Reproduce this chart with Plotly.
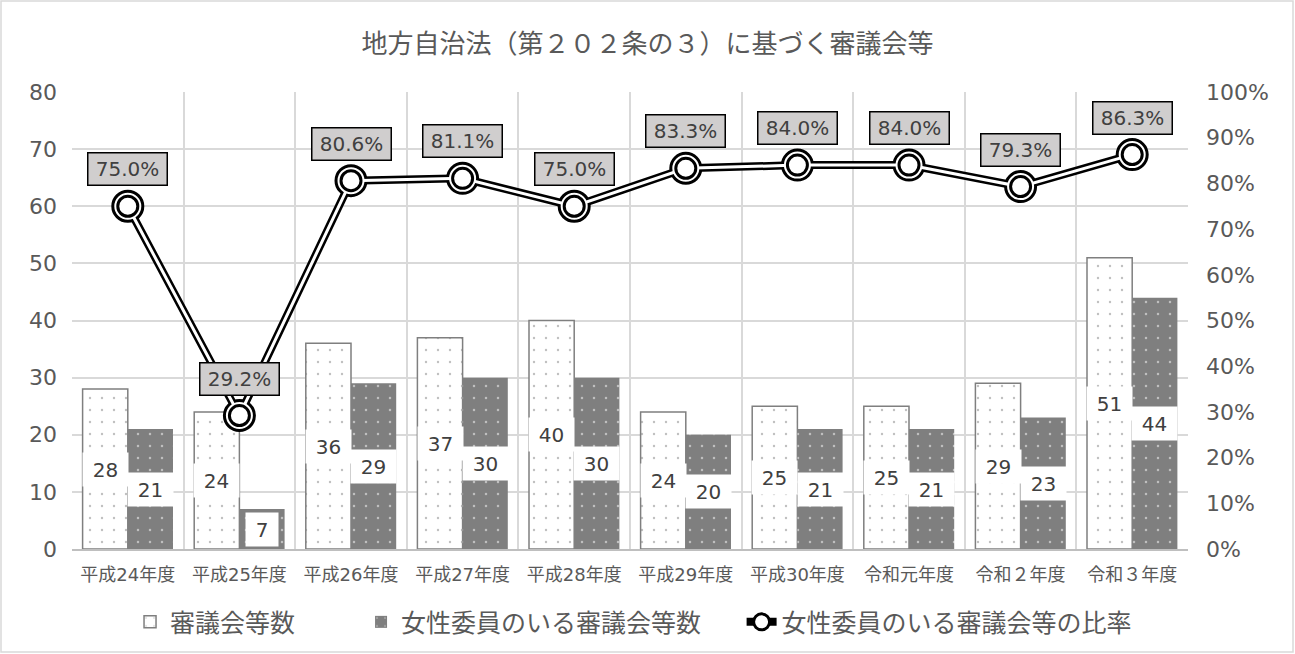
import plotly.graph_objects as go

categories = ["平成24年度", "平成25年度", "平成26年度", "平成27年度", "平成28年度",
              "平成29年度", "平成30年度", "令和元年度", "令和２年度", "令和３年度"]
councils = [28, 24, 36, 37, 40, 24, 25, 25, 29, 51]
councils_with_women = [21, 7, 29, 30, 30, 20, 21, 21, 23, 44]
ratio = [0.750, 0.292, 0.806, 0.811, 0.750, 0.833, 0.840, 0.840, 0.793, 0.863]

name1 = "審議会等数"
name2 = "女性委員のいる審議会等数"
name3 = "女性委員のいる審議会等の比率"
title = "地方自治法（第２０２条の３）に基づく審議会等"

FONT = "DejaVu Sans, Noto Sans CJK JP, sans-serif"
TXT = "#595959"
GRID = "#d9d9d9"
BARGAP = 0.19

fig = go.Figure()
fig.add_trace(go.Bar(
    x=categories, y=councils, name=name1, legend="legend",
    marker=dict(color="white", line=dict(color="#7f7f7f", width=1.5),
                pattern=dict(shape=".", fgcolor="#7f7f7f", bgcolor="white",
                             size=12, solidity=0.03)),
))
fig.add_trace(go.Bar(
    x=categories, y=councils_with_women, name=name2, legend="legend2",
    marker=dict(color="#7f7f7f", line=dict(color="#7f7f7f", width=0),
                pattern=dict(shape=".", fgcolor="white", bgcolor="#7f7f7f",
                             size=12, solidity=0.035)),
))
# double line: thick black then thin white on top
fig.add_trace(go.Scatter(
    x=categories, y=ratio, yaxis="y2", name=name3, legend="legend3",
    mode="lines+markers",
    line=dict(color="black", width=8),
    marker=dict(symbol="circle", size=30, color="white", line=dict(color="black", width=3)),
))
fig.add_trace(go.Scatter(
    x=categories, y=ratio, yaxis="y2", showlegend=False,
    mode="lines+markers",
    line=dict(color="white", width=3),
    marker=dict(symbol="circle", size=20, color="white", line=dict(color="black", width=3)),
    hoverinfo="skip",
))

annotations = []
off = (1 - BARGAP) / 4
for i, (a, b) in enumerate(zip(councils, councils_with_women)):
    for val, dx in ((a, -off), (b, off)):
        s = str(val)
        annotations.append(dict(
            x=i + dx, y=val / 2, xref="x", yref="y", text=s, showarrow=False,
            font=dict(family=FONT, size=20, color="#404040"),
            bgcolor="white", borderpad=3, width=39 if len(s) > 1 else 26, height=27,
        ))
for i, r in enumerate(ratio):
    annotations.append(dict(
        x=i, y=r, xref="x", yref="y2", text=f"{r*100:.1f}%", showarrow=False,
        yshift=37, font=dict(family=FONT, size=20, color="#404040"),
        bgcolor="#d0cece", bordercolor="black", borderwidth=1.5, borderpad=2,
        width=74, height=27,
    ))

fig.update_layout(
    width=1295, height=654,
    margin=dict(l=72, r=107, t=92, b=105, autoexpand=False),
    paper_bgcolor="white", plot_bgcolor="white",
    font=dict(family=FONT, color=TXT),
    title=dict(text=title, x=0.5, xref="container", xanchor="center",
               y=1 - 44 / 654, yref="container", yanchor="middle",
               font=dict(family=FONT, size=26, color=TXT)),
    barmode="group", bargap=BARGAP, bargroupgap=0,
    xaxis=dict(type="category", range=[-0.5, len(categories) - 0.5],
               tickson="boundaries", showgrid=True, gridcolor=GRID,
               gridwidth=1.5, showline=True, linecolor="#bfbfbf", linewidth=1.5,
               ticks="", automargin=False, ticklabelstandoff=9,
               tickfont=dict(family=FONT, size=18, color=TXT)),
    yaxis=dict(range=[0, 80], dtick=10, showgrid=True, gridcolor=GRID, gridwidth=1.5,
               zeroline=False, showline=False, ticks="", ticklabelstandoff=14,
               automargin=False, tickfont=dict(family=FONT, size=22, color=TXT)),
    yaxis2=dict(range=[0, 1], dtick=0.1, tickformat=".0%", overlaying="y", side="right",
                showgrid=False, zeroline=False, showline=False, ticks="",
                ticklabelstandoff=17, automargin=False,
                tickfont=dict(family=FONT, size=22, color=TXT)),
    legend=dict(orientation="h", x=0.052, y=-0.16, xanchor="left", yanchor="middle",
                font=dict(family=FONT, size=25, color=TXT), bgcolor="rgba(0,0,0,0)"),
    legend2=dict(orientation="h", x=0.259, y=-0.16, xanchor="left", yanchor="middle",
                 font=dict(family=FONT, size=25, color=TXT), bgcolor="rgba(0,0,0,0)"),
    legend3=dict(orientation="h", x=0.600, y=-0.16, xanchor="left", yanchor="middle",
                 font=dict(family=FONT, size=25, color=TXT), bgcolor="rgba(0,0,0,0)"),
    annotations=annotations,
    shapes=[dict(type="rect", xref="paper", yref="paper",
                 x0=(1 - 72) / 1116, x1=(1293 - 72) / 1116,
                 y0=(549 - 652) / 457, y1=(549 - 1) / 457,
                 line=dict(color=GRID, width=1.5), layer="below")],
)

fig.write_html("out.html")
